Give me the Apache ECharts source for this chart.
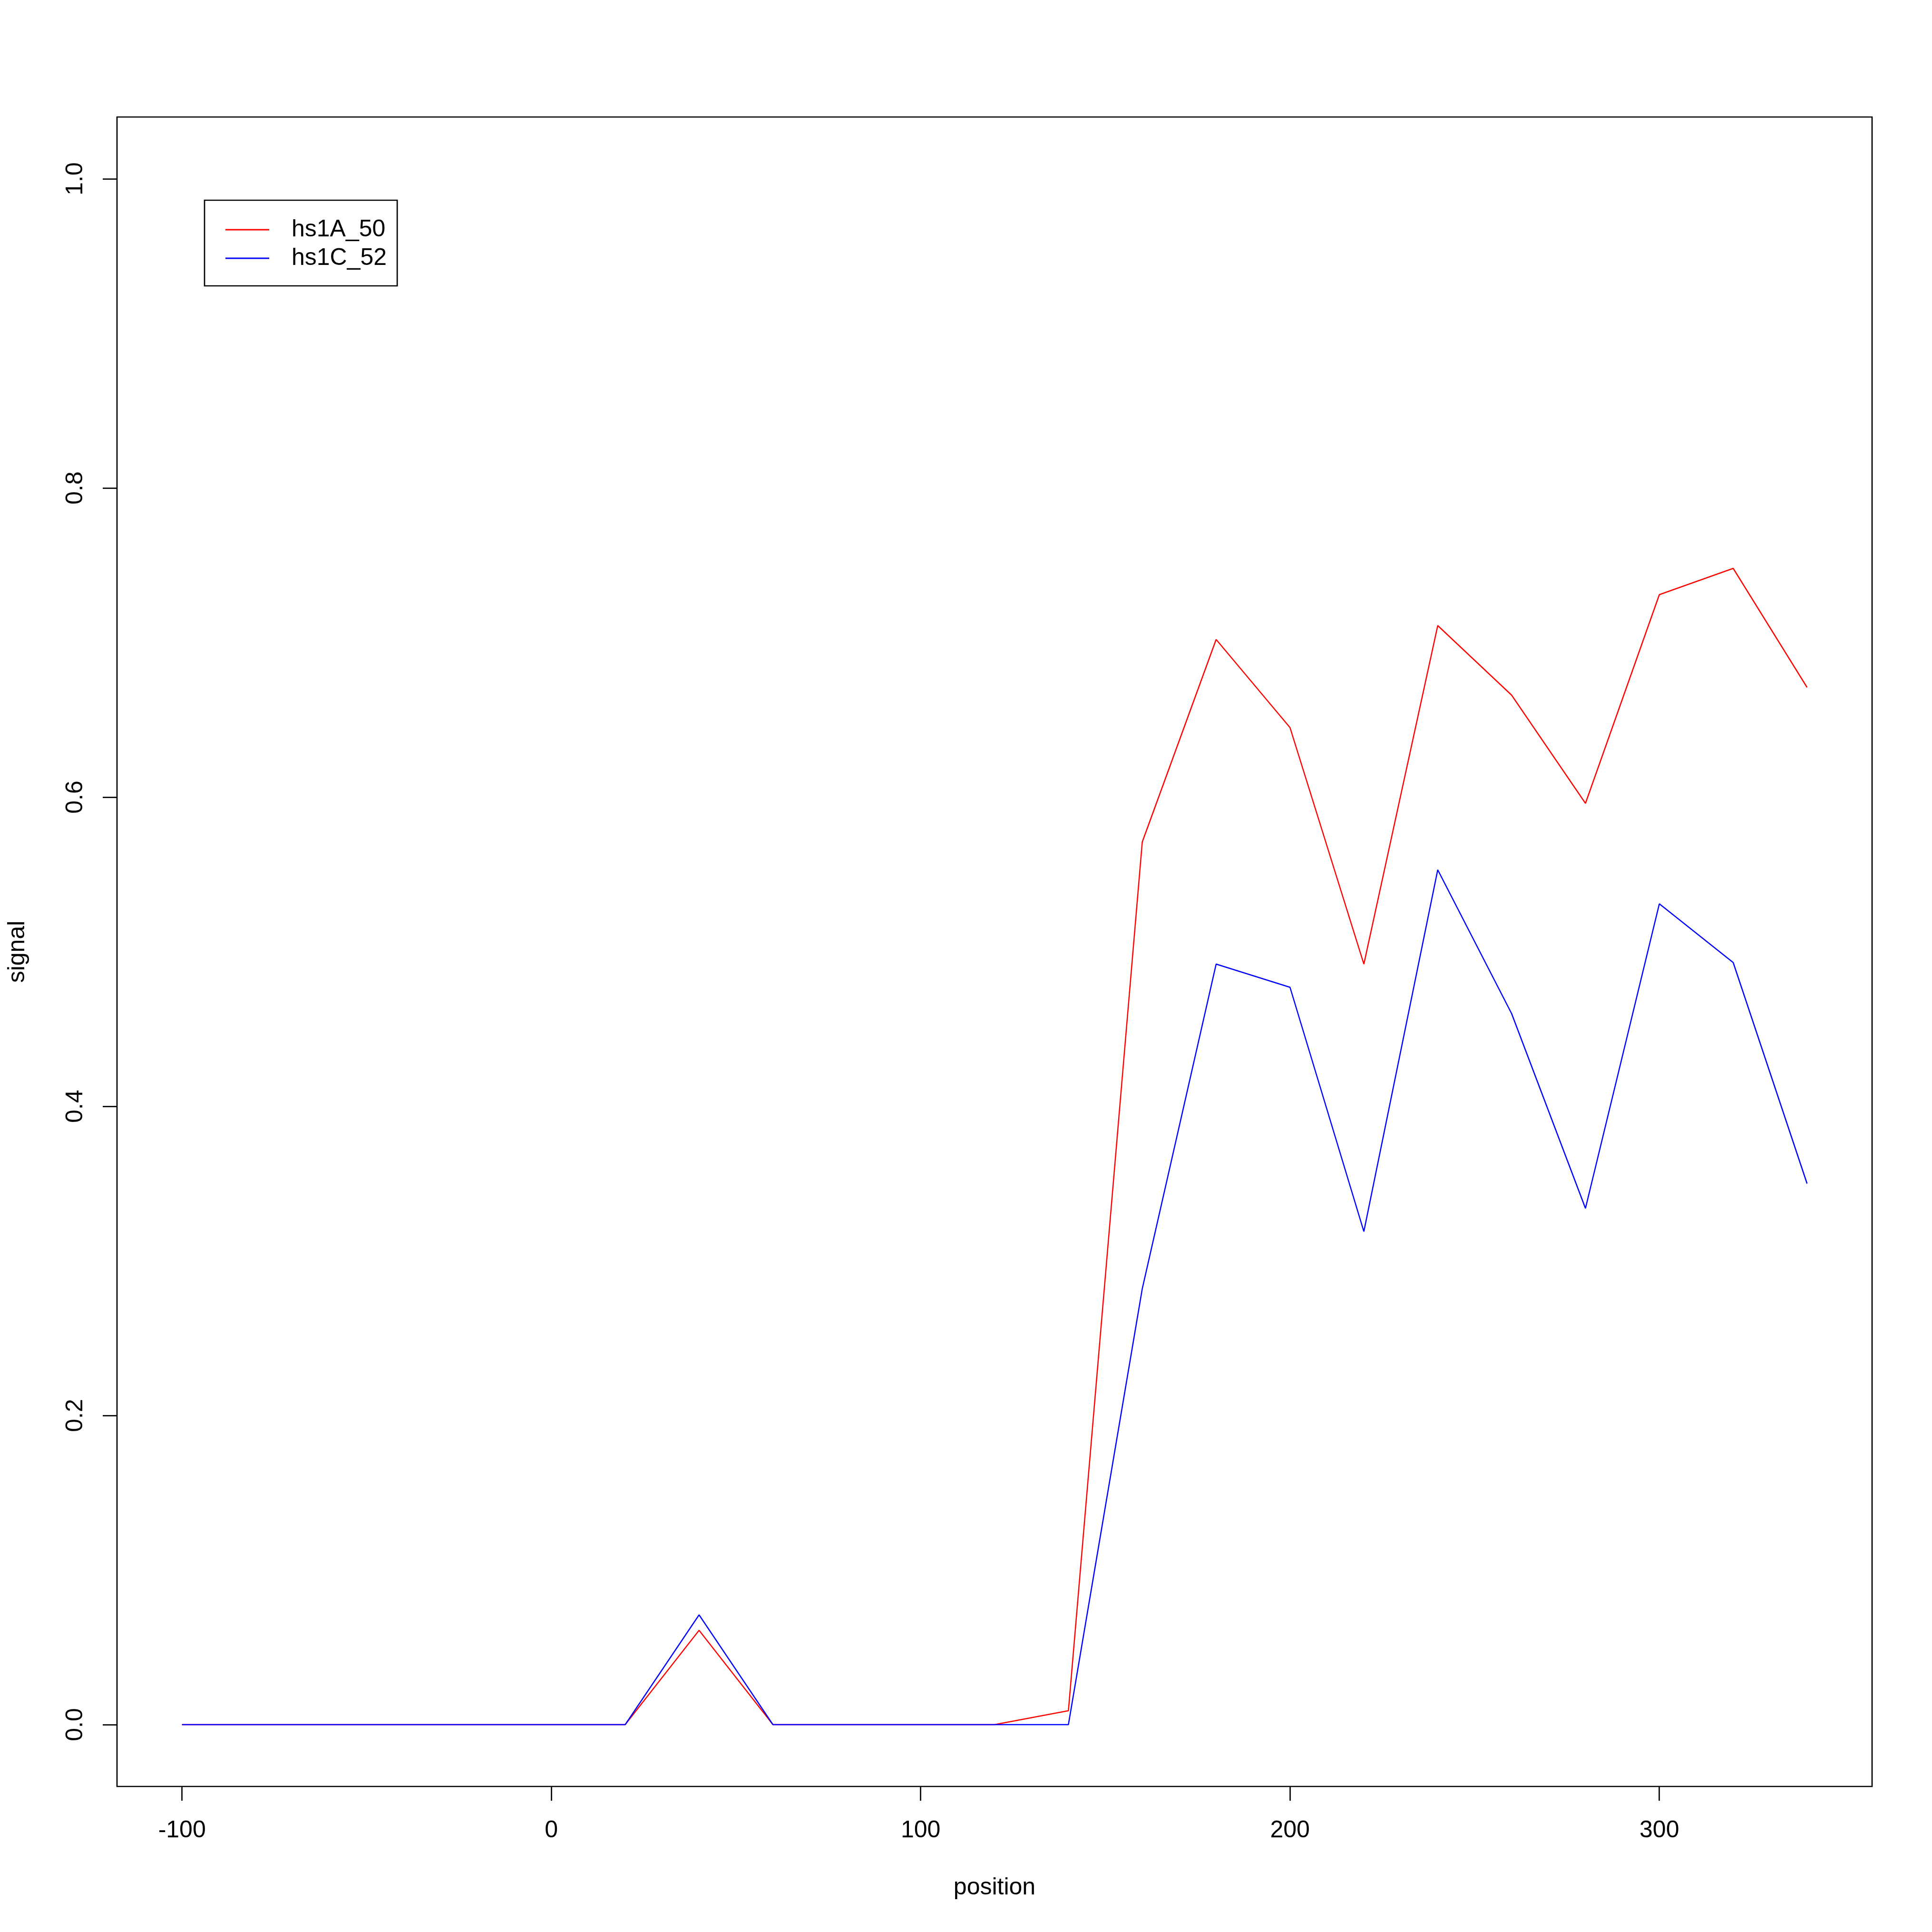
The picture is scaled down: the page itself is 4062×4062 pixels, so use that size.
<!DOCTYPE html>
<html>
<head>
<meta charset="utf-8">
<script src="https://cdn.jsdelivr.net/npm/echarts@6/dist/echarts.min.js"></script>
<style>html,body{margin:0;padding:0;background:#fff}#c{width:4062px;height:4062px}</style>
</head>
<body>
<div id="c"></div>
<script>
const positions = [-100,-80,-60,-40,-20,0,20,40,60,80,100,120,140,160,180,200,220,240,260,280,300,320,340];
const hs1A_50 = [0,0,0,0,0,0,0,0.061,0,0,0,0,0.009,0.571,0.702,0.645,0.492,0.711,0.666,0.596,0.731,0.748,0.671];
const hs1C_52 = [0,0,0,0,0,0,0,0.071,0,0,0,0,0,0.282,0.492,0.477,0.319,0.553,0.460,0.334,0.531,0.493,0.350];
const xTicks = [-100,0,100,200,300];
const yTicks = [0,0.2,0.4,0.6,0.8,1.0];
const seriesNames = ['hs1A_50','hs1C_52'];
const seriesColors = ['#ff0000','#0000ff'];

const FONT = '"Liberation Sans", Arial, Helvetica, sans-serif';
const chart = echarts.init(document.getElementById('c'), null, {renderer:'canvas'});
const pair = (ys) => positions.map((x,i)=>[x, ys[i]]);
chart.setOption({
  animation: false,
  backgroundColor: '#ffffff',
  grid: {left:246, right:126, top:246, bottom:306, show:true, borderColor:'#000', borderWidth:2.7, backgroundColor:'transparent'},
  legend: {
    left: 430, top: 421, orient: 'vertical',
    data: seriesNames,
    icon: 'rect', itemWidth: 92, itemHeight: 3, itemGap: 0,
    padding: [32, 22, 28, 44],
    borderColor: '#000', borderWidth: 2.7,
    itemStyle: {borderWidth: 0},
    textStyle: {fontFamily: FONT, fontSize: 50, color: '#000', lineHeight: 60, padding: [0,0,0,42]}
  },
  xAxis: {
    type: 'value', min: -117.6, max: 357.6,
    name: 'position', nameLocation: 'middle', nameGap: 188,
    nameTextStyle: {fontFamily: FONT, fontSize: 50, color: '#000'},
    axisLine: {show: false, onZero: false},
    splitLine: {show: false},
    axisTick: {show: true, inside: false, length: 30, customValues: xTicks, lineStyle: {color:'#000', width: 2.7}},
    axisLabel: {customValues: xTicks, margin: 68, fontFamily: FONT, fontSize: 50, color: '#000'}
  },
  yAxis: {
    type: 'value', min: -0.04, max: 1.04,
    name: 'signal', nameLocation: 'middle', nameGap: 184,
    nameTextStyle: {fontFamily: FONT, fontSize: 50, color: '#000'},
    axisLine: {show: false, onZero: false},
    splitLine: {show: false},
    axisTick: {show: true, inside: false, length: 30, customValues: yTicks, lineStyle: {color:'#000', width: 2.7}},
    axisLabel: {customValues: yTicks, rotate: 90, margin: 62, fontFamily: FONT, fontSize: 50, color: '#000',
      formatter: v => Number(v).toFixed(1)}
  },
  series: [
    {name: seriesNames[0], type: 'line', symbol: 'none', data: pair(hs1A_50), color: seriesColors[0], lineStyle: {color: seriesColors[0], width: 2.5}},
    {name: seriesNames[1], type: 'line', symbol: 'none', data: pair(hs1C_52), color: seriesColors[1], lineStyle: {color: seriesColors[1], width: 2.5}}
  ]
});
</script>
</body>
</html>
